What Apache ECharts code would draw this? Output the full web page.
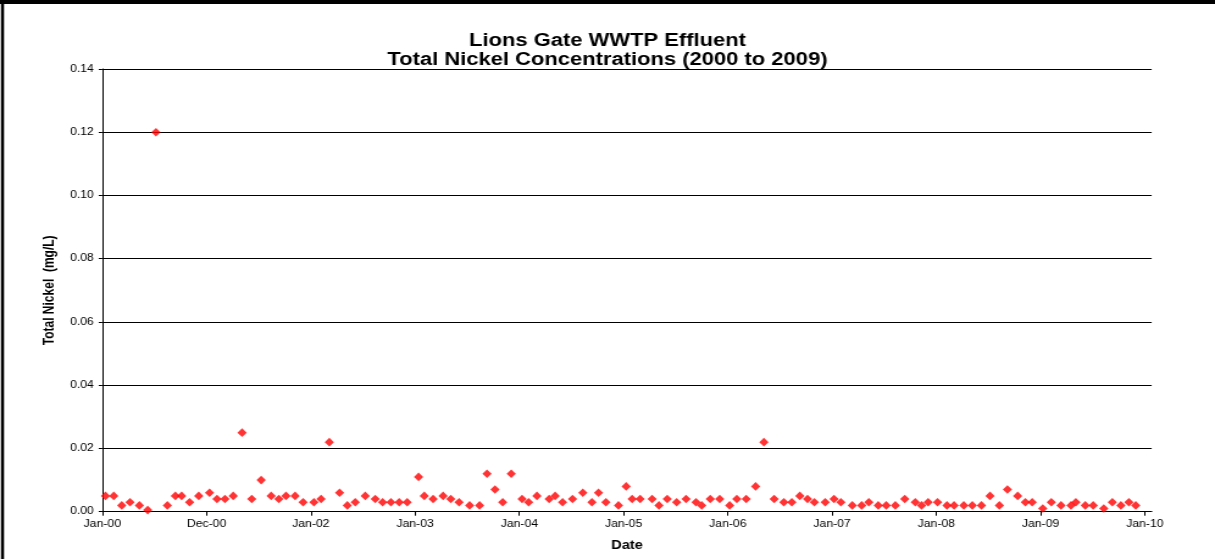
<!DOCTYPE html>
<html>
<head>
<meta charset="utf-8">
<script src="https://cdn.jsdelivr.net/npm/echarts@6.0.0/dist/echarts.min.js"></script>
<style>
html, body { margin: 0; padding: 0; background: #ffffff; overflow: hidden; }
#wrap { width: 1215px; height: 559px; overflow: hidden; position: relative; }
/* the original Excel chart is horizontally stretched; reproduce that stretch */
#chart { width: 996px; height: 559px; transform: scaleX(1.21988); transform-origin: 0 0; }
</style>
</head>
<body>
<div id="wrap"><div id="chart"></div></div>
<script>
// ---------------- data ----------------
const chartTitle = 'Lions Gate WWTP Effluent\nTotal Nickel Concentrations (2000 to 2009)';
const xAxisTitle = 'Date';
const yAxisTitle = 'Total Nickel  (mg/L)';
const xTickLabels = ['Jan-00', 'Dec-00', 'Jan-02', 'Jan-03', 'Jan-04', 'Jan-05', 'Jan-06', 'Jan-07', 'Jan-08', 'Jan-09', 'Jan-10'];
const xMajorUnitDays = 365.6;   // spacing of the date-axis ticks
const xAxisMaxDays = 3680;      // axis end, days after 1 Jan 2000
const yMin = 0, yMax = 0.14, yStep = 0.02;

const sampleDates = [
  '2000-01-12', '2000-02-10', '2000-03-09', '2000-04-07', '2000-05-10', '2000-06-08',
  '2000-07-07', '2000-08-16', '2000-09-13', '2000-10-05', '2000-11-02', '2000-12-04',
  '2001-01-11', '2001-02-06', '2001-03-06', '2001-04-04', '2001-05-05', '2001-06-08',
  '2001-07-11', '2001-08-15', '2001-09-11', '2001-10-06', '2001-11-07', '2001-12-05',
  '2002-01-12', '2002-02-06', '2002-03-07', '2002-04-12', '2002-05-09', '2002-06-06',
  '2002-07-11', '2002-08-15', '2002-09-10', '2002-10-09', '2002-11-07', '2002-12-05',
  '2003-01-14', '2003-02-03', '2003-03-06', '2003-04-10', '2003-05-07', '2003-06-05',
  '2003-07-12', '2003-08-16', '2003-09-11', '2003-10-09', '2003-11-05', '2003-12-05',
  '2004-01-12', '2004-02-04', '2004-03-04', '2004-04-16', '2004-05-07', '2004-06-02',
  '2004-07-07', '2004-08-12', '2004-09-13', '2004-10-06', '2004-11-01', '2004-12-15',
  '2005-01-11', '2005-02-01', '2005-03-01', '2005-04-12', '2005-05-06', '2005-06-04',
  '2005-07-07', '2005-08-09', '2005-09-13', '2005-10-03', '2005-11-02', '2005-12-05',
  '2006-01-09', '2006-02-03', '2006-03-08', '2006-04-10', '2006-05-09', '2006-06-14',
  '2006-07-18', '2006-08-15', '2006-09-12', '2006-10-09', '2006-11-02', '2006-12-10',
  '2007-01-10', '2007-02-03', '2007-03-15', '2007-04-17', '2007-05-12', '2007-06-14',
  '2007-07-12', '2007-08-13', '2007-09-15', '2007-10-22', '2007-11-13', '2007-12-06',
  '2008-01-08', '2008-02-10', '2008-03-06', '2008-04-09', '2008-05-09', '2008-06-10',
  '2008-07-10', '2008-08-12', '2008-09-09', '2008-10-15', '2008-11-11', '2008-12-05',
  '2009-01-11', '2009-02-10', '2009-03-16', '2009-04-20', '2009-05-07', '2009-06-09',
  '2009-07-07', '2009-08-13', '2009-09-12', '2009-10-12', '2009-11-09', '2009-12-03'
];

const nickelValues = [
  0.005, 0.005, 0.002, 0.003, 0.002, 0.0005,
  0.120, 0.002, 0.005, 0.005, 0.003, 0.005,
  0.006, 0.004, 0.004, 0.005, 0.025, 0.004,
  0.010, 0.005, 0.004, 0.005, 0.005, 0.003,
  0.003, 0.004, 0.022, 0.006, 0.002, 0.003,
  0.005, 0.004, 0.003, 0.003, 0.003, 0.003,
  0.011, 0.005, 0.004, 0.005, 0.004, 0.003,
  0.002, 0.002, 0.012, 0.007, 0.003, 0.012,
  0.004, 0.003, 0.005, 0.004, 0.005, 0.003,
  0.004, 0.006, 0.003, 0.006, 0.003, 0.002,
  0.008, 0.004, 0.004, 0.004, 0.002, 0.004,
  0.003, 0.004, 0.003, 0.002, 0.004, 0.004,
  0.002, 0.004, 0.004, 0.008, 0.022, 0.004,
  0.003, 0.003, 0.005, 0.004, 0.003, 0.003,
  0.004, 0.003, 0.002, 0.002, 0.003, 0.002,
  0.002, 0.002, 0.004, 0.003, 0.002, 0.003,
  0.003, 0.002, 0.002, 0.002, 0.002, 0.002,
  0.005, 0.002, 0.007, 0.005, 0.003, 0.003,
  0.001, 0.003, 0.002, 0.002, 0.003, 0.002,
  0.002, 0.001, 0.003, 0.002, 0.003, 0.002
];

// ---------------- build ----------------
const DAY_MS = 86400000;
const ORIGIN = Date.UTC(2000, 0, 1);
function daysSinceOrigin(s) {
  const p = s.split('-').map(Number);
  return (Date.UTC(p[0], p[1] - 1, p[2]) - ORIGIN) / DAY_MS;
}
const points = sampleDates.map((d, i) => [daysSinceOrigin(d), nickelValues[i]]);
const xTickValues = xTickLabels.map((_, i) => i * xMajorUnitDays);

const FONT = '"Liberation Sans", Arial, Helvetica, sans-serif';

const chart = echarts.init(document.getElementById('chart'), null, { renderer: 'canvas' });
chart.setOption({
  animation: false,
  backgroundColor: '#ffffff',
  title: {
    text: chartTitle,
    left: 'center',
    top: 31,
    padding: [0, 0, 0, 8],
    textStyle: { fontFamily: FONT, fontSize: 18, fontWeight: 'bold', color: '#000000', lineHeight: 19.5 }
  },
  grid: { left: 83.9, right: 51.9, top: 69, bottom: 47.3, containLabel: false },
  xAxis: {
    type: 'value',
    min: 0,
    max: xAxisMaxDays,
    name: xAxisTitle,
    nameLocation: 'middle',
    nameGap: 28,
    nameTextStyle: { fontFamily: FONT, fontSize: 12, fontWeight: 'bold', color: '#000000' },
    axisLine: { show: true, lineStyle: { color: '#000000', width: 1 } },
    axisTick: { show: true, length: 4, customValues: xTickValues, lineStyle: { color: '#000000' } },
    axisLabel: {
      customValues: xTickValues,
      formatter: v => xTickLabels[Math.round(v / xMajorUnitDays)] || '',
      fontFamily: FONT, fontSize: 10, color: '#000000', margin: 8
    },
    splitLine: { show: false }
  },
  yAxis: {
    type: 'value',
    min: yMin,
    max: yMax,
    interval: yStep,
    name: yAxisTitle,
    nameLocation: 'middle',
    nameGap: 31,
    nameRotate: 90,
    nameTextStyle: { fontFamily: FONT, fontSize: 12, fontWeight: 'bold', color: '#000000' },
    axisLine: { show: true, lineStyle: { color: '#000000', width: 1 } },
    axisTick: { show: true, length: 3, lineStyle: { color: '#000000' } },
    axisLabel: { formatter: v => v.toFixed(2), fontFamily: FONT, fontSize: 10, color: '#000000', margin: 7 },
    splitLine: { show: true, lineStyle: { color: '#000000', width: 1 } }
  },
  graphic: [
    { type: 'rect', shape: { x: 0, y: 0, width: 996, height: 4 }, style: { fill: '#000000' }, silent: true },
    { type: 'rect', shape: { x: 0.8, y: 0, width: 2.5, height: 559 }, style: { fill: '#000000' }, silent: true }
  ],
  series: [{
    type: 'scatter',
    name: 'Total Nickel',
    data: points,
    symbol: 'diamond',
    symbolSize: [7.6, 8.6],
    itemStyle: { color: '#FF0000' },
    emphasis: { disabled: true }
  }]
});
</script>
</body>
</html>
